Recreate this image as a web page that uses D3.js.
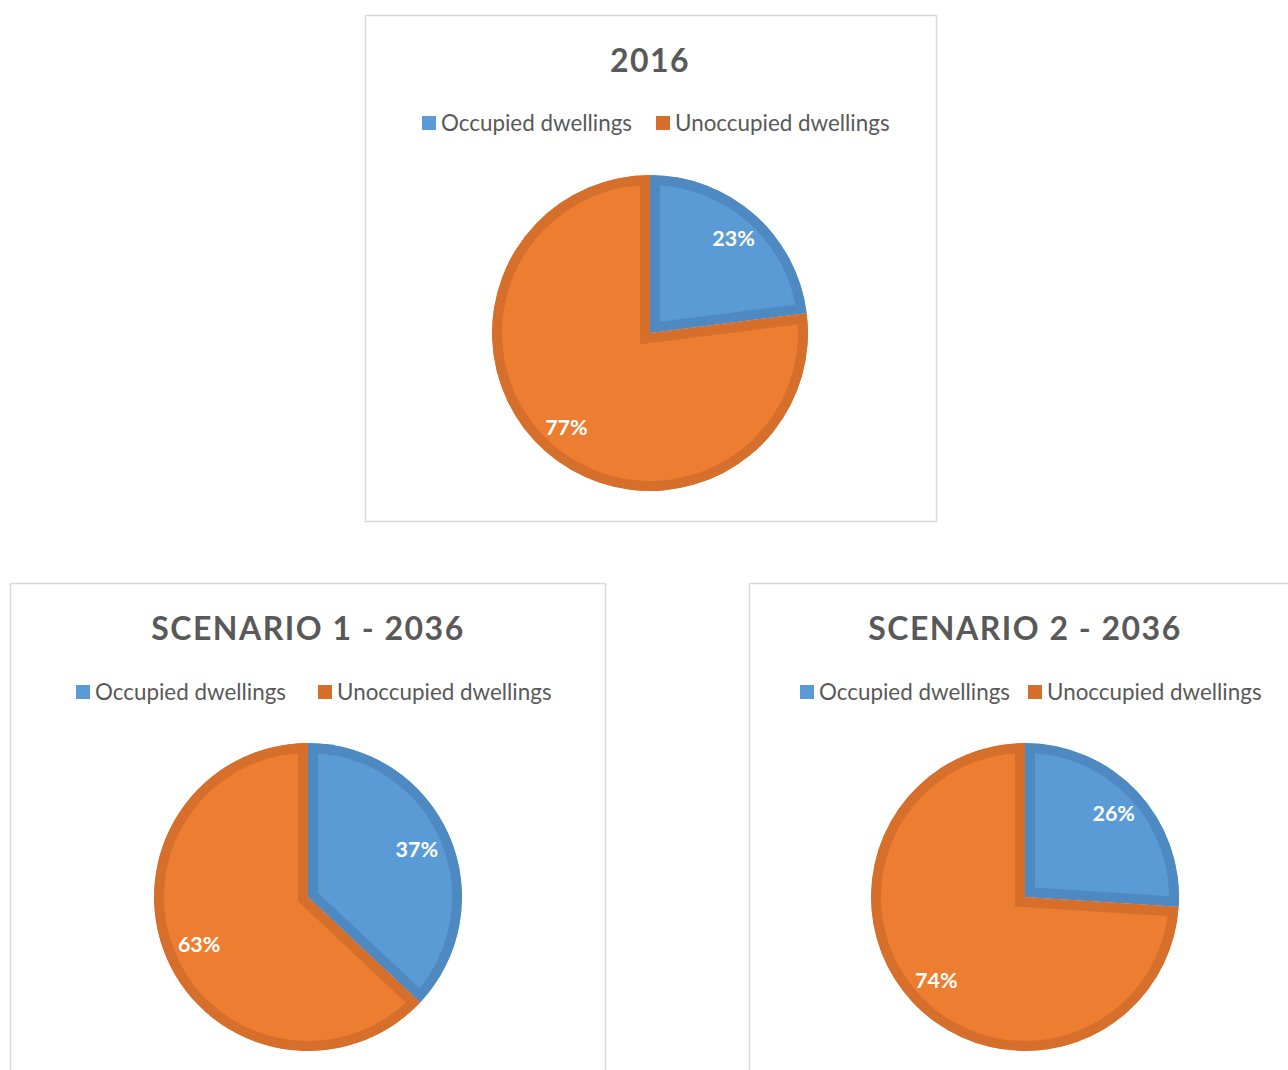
<!DOCTYPE html>
<html>
<head>
<meta charset="utf-8">
<script src="https://cdn.jsdelivr.net/npm/d3@7"></script>
<style>
  body { margin: 0; background: #fff; }
  svg { display: block; }
  text { font-family: Lato, "Open Sans", sans-serif; }
</style>
</head>
<body>
<div id="chart"></div>
<script>
// data
var categories = ["Occupied dwellings", "Unoccupied dwellings"];
var chartTitles = ["2016", "SCENARIO 1 - 2036", "SCENARIO 2 - 2036"];
var occupied = [23, 37, 26];
var unoccupied = [77, 63, 74];

var fills = ["#5b9bd5", "#ed7d31"];
var borders = ["#4f89c2", "#d66f2c"];

// panel boxes and pie centre/radius
var panels = [
  {x: 365, y: 15, w: 571, h: 506, cx: 650, cy: 333, r: 158, lr: 0.8, titleY: 72, legY: 123,
   leg: [422, 656]},
  {x: 10, y: 583, w: 595, h: 520, cx: 308, cy: 897, r: 154, lr: 0.77, titleY: 640, legY: 692,
   leg: [76, 318]},
  {x: 749, y: 583, w: 560, h: 520, cx: 1025, cy: 897, r: 154, lr: 0.79, titleY: 640, legY: 692,
   leg: [800, 1028]}
];

var svg = d3.select("#chart").append("svg")
    .attr("width", 1288)
    .attr("height", 1070);

var defs = svg.append("defs");

var pie = d3.pie().sort(null).value(function(d) { return d.value; });

panels.forEach(function(p, i) {
  var data = categories.map(function(c, j) {
    return {name: c, value: j === 0 ? occupied[i] : unoccupied[i]};
  });

  var g = svg.append("g");

  g.append("rect")
      .attr("x", p.x + 0.5).attr("y", p.y + 0.5)
      .attr("width", p.w).attr("height", p.h)
      .attr("fill", "#fff")
      .attr("stroke", "#d9d9d9")
      .attr("stroke-width", 1.5);

  g.append("text")
      .attr("x", p.cx).attr("y", p.titleY)
      .attr("text-anchor", "middle")
      .attr("font-size", 32)
      .attr("font-weight", "bold")
      .attr("letter-spacing", 1.5)
      .attr("fill", "#595959")
      .text(chartTitles[i]);

  // legend
  var leg = g.selectAll(".leg").data(categories).enter().append("g")
      .attr("transform", function(d, j) { return "translate(" + p.leg[j] + "," + p.legY + ")"; });
  leg.append("rect")
      .attr("x", 0).attr("y", -7)
      .attr("width", 14).attr("height", 14)
      .attr("fill", function(d, j) { return j === 0 ? fills[0] : borders[1]; });
  leg.append("text")
      .attr("x", 19).attr("y", 7.5)
      .attr("font-size", 22.4)
      .attr("fill", "#595959")
      .text(function(d) { return d; });

  var arc = d3.arc().innerRadius(0).outerRadius(p.r);
  var labelArc = d3.arc().innerRadius(p.r * p.lr).outerRadius(p.r * p.lr);

  var slices = g.append("g")
      .attr("transform", "translate(" + p.cx + "," + p.cy + ")");

  var arcs = pie(data);

  // each slice gets an inner border: double-width stroke clipped to the slice itself
  arcs.forEach(function(a, j) {
    var id = "clip" + i + "_" + j;
    defs.append("clipPath").attr("id", id)
      .append("path")
        .attr("d", arc(a));
    slices.append("path")
        .attr("d", arc(a))
        .attr("fill", fills[j])
        .attr("stroke", borders[j])
        .attr("stroke-width", 20)
        .attr("clip-path", "url(#" + id + ")");
  });

  slices.selectAll(".lbl").data(arcs).enter().append("text")
      .attr("transform", function(d) { return "translate(" + labelArc.centroid(d) + ")"; })
      .attr("text-anchor", "middle")
      .attr("dy", "0.35em")
      .attr("font-size", 21.5)
      .attr("font-weight", "bold")
      .attr("fill", "#fff")
      .text(function(d) { return d.data.value + "%"; });
});
</script>
</body>
</html>
